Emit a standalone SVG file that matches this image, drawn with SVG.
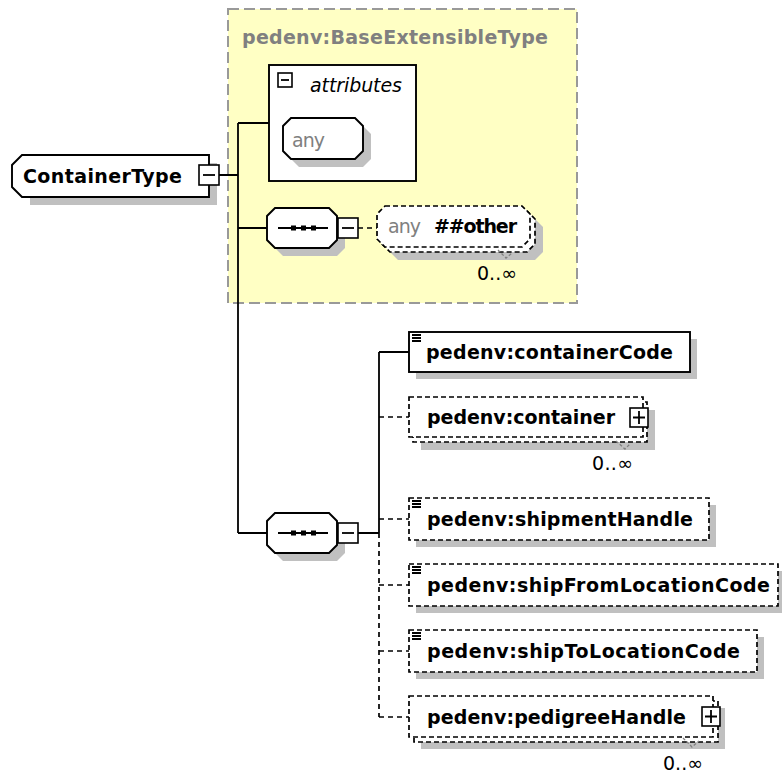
<svg xmlns="http://www.w3.org/2000/svg" width="782" height="774" viewBox="0 0 782 774">
<style>
.bg{fill:#ffffff}
.shadow{fill:#c0c0c0;stroke:none}
.solid{fill:#ffffff;stroke:#000000;stroke-width:1.9}
.dash{fill:#ffffff;stroke:#000000;stroke-width:1.7;stroke-dasharray:5 3}
.ln{fill:none;stroke:#000000;stroke-width:1.8}
.dln{fill:none;stroke:#000000;stroke-width:1.7;stroke-dasharray:5 4}
.ico{fill:#ffffff;stroke:#000000;stroke-width:1.6}
.tick{fill:none;stroke:#808080;stroke-width:1.3;stroke-dasharray:3 2}
.b{font-family:"DejaVu Sans","Liberation Sans",sans-serif;font-weight:bold;font-size:19px;fill:#000000}
.r{font-family:"DejaVu Sans","Liberation Sans",sans-serif;font-size:19px;fill:#000000}
.g{fill:#808080}
.i{font-style:italic}
</style>
<rect x="0" y="0" width="782" height="774" class="bg"/>

<g id="baseType">
  <rect x="228" y="9" width="349" height="294" fill="#ffffc4" stroke="#999999" stroke-width="2" stroke-dasharray="11 5"/>
  <text x="242" y="44" class="b g" textLength="306">pedenv:BaseExtensibleType</text>
</g>

<g id="connectors">
  <path class="ln" d="M219,175 H238 M238,123 V533 M238,123 H269 M238,228 H267 M238,533 H267"/>
  <path class="dln" d="M358,228 H377"/>
  <path class="ln" d="M358,533 H379 M379,352 V533 M379,352 H409"/>
  <path class="dln" d="M379,533 V717 M379,417 H409 M379,519 H409 M379,585 H409 M379,651 H409 M379,717 H409"/>
</g>

<g id="ContainerType">
  <path class="shadow" d="M30,163 H217 V205 H30 Z"/>
  <path class="solid" d="M22,155 H209 V197 H22 L12,187 V165 Z"/>
  <text x="23" y="183" class="b" textLength="159">ContainerType</text>
  <rect x="199" y="165" width="20" height="20" class="ico"/>
  <path class="ln" d="M203,175 H215"/>
</g>

<g id="attributes">
  <rect x="269" y="65" width="147" height="116" class="solid"/>
  <rect x="278" y="73" width="14" height="14" class="ico"/>
  <path class="ln" d="M281,80 H289"/>
  <text x="310" y="92" class="r i" textLength="92">attributes</text>
</g>

<g id="anyAttribute">
  <path class="shadow" d="M299,126 H363 L371,134 V159 L363,167 H299 L291,159 V134 Z"/>
  <path class="solid" d="M291,118 H355 L363,126 V151 L355,159 H291 L283,151 V126 Z"/>
  <text x="292" y="147" class="r g" textLength="33">any</text>
</g>

<g id="sequence1">
  <path class="shadow" d="M283,216 H337 L345,224 V248 L337,256 H283 L275,248 V224 Z"/>
  <path class="solid" d="M275,208 H329 L337,216 V240 L329,248 H275 L267,240 V216 Z"/>
  <path class="ln" d="M278,228 H328"/>
  <rect x="291" y="225.5" width="5" height="5"/>
  <rect x="301" y="225.5" width="5" height="5"/>
  <rect x="311" y="225.5" width="5" height="5"/>
  <rect x="338" y="218" width="20" height="20" class="ico"/>
  <path class="ln" d="M342,228 H354"/>
</g>

<g id="anyOther">
  <path class="shadow" d="M398,219 H535 L543,227 V252 L535,260 H398 L390,252 V227 Z"/>
  <path class="dash" d="M390,211 H527 L535,219 V244 L527,252 H390 L382,244 V219 Z"/>
  <path class="dash" d="M385,206 H522 L530,214 V239 L522,247 H385 L377,239 V214 Z"/>
  <text x="388" y="233" class="r g" textLength="33">any</text>
  <text x="434" y="233" class="b" textLength="83">##other</text>
  <path class="tick" d="M498,250 L506,258 L512,253"/>
  <text x="477" y="280" class="r" textLength="40">0..∞</text>
</g>

<g id="sequence2">
  <path class="shadow" d="M283,521 H337 L345,529 V553 L337,561 H283 L275,553 V529 Z"/>
  <path class="solid" d="M275,513 H329 L337,521 V545 L329,553 H275 L267,545 V521 Z"/>
  <path class="ln" d="M278,533 H328"/>
  <rect x="291" y="530.5" width="5" height="5"/>
  <rect x="301" y="530.5" width="5" height="5"/>
  <rect x="311" y="530.5" width="5" height="5"/>
  <rect x="338" y="523" width="20" height="20" class="ico"/>
  <path class="ln" d="M342,533 H354"/>
</g>

<g id="containerCode">
  <rect x="416" y="339" width="281" height="40" class="shadow"/>
  <rect x="409" y="332" width="281" height="40" class="solid"/>
  <path class="ln" stroke-width="1.2" d="M412,335 H421 M412,338 H421 M412,341 H421"/>
  <text x="426" y="359" class="b" textLength="247">pedenv:containerCode</text>
</g>

<g id="container">
  <rect x="421" y="410" width="234" height="40" class="shadow"/>
  <rect x="413" y="402" width="234" height="40" class="dash"/>
  <rect x="409" y="397" width="234" height="40" class="dash"/>
  <text x="427" y="424" class="b" textLength="188">pedenv:container</text>
  <rect x="630" y="408" width="18" height="19" class="ico"/>
  <path class="ln" d="M633,417.5 H645 M639,411 V424"/>
  <path class="tick" d="M616,441 L625,449 L630,444"/>
  <text x="592" y="470" class="r" textLength="41">0..∞</text>
</g>

<g id="shipmentHandle">
  <rect x="416" y="505" width="300" height="42" class="shadow"/>
  <rect x="409" y="498" width="300" height="42" class="dash"/>
  <path class="ln" stroke-width="1.2" d="M412,501 H421 M412,504 H421 M412,507 H421"/>
  <text x="427" y="526" class="b" textLength="266">pedenv:shipmentHandle</text>
</g>

<g id="shipFromLocationCode">
  <rect x="416" y="571" width="369" height="42" class="shadow"/>
  <rect x="409" y="564" width="369" height="42" class="dash"/>
  <path class="ln" stroke-width="1.2" d="M412,567 H421 M412,570 H421 M412,573 H421"/>
  <text x="427" y="592" class="b" textLength="343">pedenv:shipFromLocationCode</text>
</g>

<g id="shipToLocationCode">
  <rect x="416" y="637" width="348" height="42" class="shadow"/>
  <rect x="409" y="630" width="348" height="42" class="dash"/>
  <path class="ln" stroke-width="1.2" d="M412,633 H421 M412,636 H421 M412,639 H421"/>
  <text x="427" y="658" class="b" textLength="313">pedenv:shipToLocationCode</text>
</g>

<g id="pedigreeHandle">
  <rect x="421" y="708" width="304" height="41" class="shadow"/>
  <rect x="414" y="701" width="304" height="41" class="dash"/>
  <rect x="409" y="696" width="304" height="41" class="dash"/>
  <text x="427" y="724" class="b" textLength="259">pedenv:pedigreeHandle</text>
  <rect x="702" y="707" width="18" height="19" class="ico"/>
  <path class="ln" d="M705,716.5 H717 M711,710 V723"/>
  <path class="tick" d="M683,738 L692,747 L699,741"/>
  <text x="663" y="770" class="r" textLength="40">0..∞</text>
</g>
</svg>
